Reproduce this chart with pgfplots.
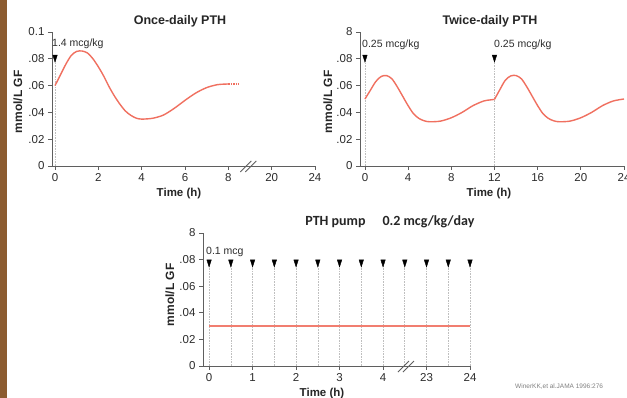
\documentclass[border=0pt]{standalone}
\usepackage{pgfplots}
\pgfplotsset{compat=1.18}
\usepackage{fontspec}
\setmainfont{Liberation Sans}
\newfontfamily\carlito{Carlito}
\definecolor{curve}{RGB}{240,112,96}
\definecolor{axgray}{RGB}{95,95,95}
\definecolor{txt}{RGB}{45,45,45}
\definecolor{strip}{RGB}{140,92,48}

\pgfplotsset{panel/.style={
  scale only axis, anchor=south west, clip=false,
  axis x line*=bottom, axis y line*=left,
  axis line style={axgray, line width=0.9pt},
  every tick/.style={axgray, line width=0.9pt},
  tick align=outside, major tick length=4pt,
  /pgf/number format/assume math mode=true,
  ymin=0, ymax=0.1, ytick={0,0.02,0.04,0.06,0.08,0.1},
  ticklabel style={font=\fontsize{11.5}{13}\selectfont, text=txt},
  height=134pt,
}}
\pgfplotsset{dose/.style={black, only marks, mark=triangle*, mark size=2.6pt, mark options={rotate=180, yscale=1.8, fill=black}}}
\pgfplotsset{vline/.style={gray!50, densely dotted, line width=0.6pt}}

\begin{document}
\begin{tikzpicture}[x=1pt,y=1pt]
\path[use as bounding box] (0,0) rectangle (627,398);
\fill[white] (0,0) rectangle (627,398);
\fill[strip] (0,0) rectangle (7,398);

% ---------- Panel 1: once-daily ----------
\begin{axis}[panel, at={(52pt,232pt)}, width=263pt,
  xmin=-0.14, xmax=12,
  xtick={0,2,4,6,8,10,12}, xticklabels={0,2,4,6,8,20,24},
  yticklabels={0,.02,.04,.06,.08,0.1}]
\addplot[vline] coordinates {(0,0) (0,0.081)};
\addplot[dose] coordinates {(0,0.081)};
\addplot[curve, line width=1.4pt, smooth] coordinates {
 (0,0.060) (0.25,0.068) (0.5,0.076) (0.75,0.0825) (1.0,0.0855) (1.25,0.0858)
 (1.5,0.0843) (1.75,0.080) (2.0,0.074) (2.25,0.067) (2.5,0.059) (2.75,0.052)
 (3.0,0.046) (3.25,0.041) (3.5,0.0378) (3.75,0.0357) (4.0,0.035) (4.5,0.0356)
 (5.0,0.038) (5.5,0.043) (6.0,0.049) (6.5,0.0545) (7.0,0.0585) (7.5,0.0607) (8.0,0.0612)};
\addplot[curve, line width=1.4pt, densely dotted] coordinates {(8.0,0.0612) (8.5,0.0612)};
\draw[axgray, line width=0.9pt] ([xshift=-9pt,yshift=-6pt]axis cs:8.97,0) -- ++(11pt,11pt);
\draw[axgray, line width=0.9pt] ([xshift=-4pt,yshift=-6pt]axis cs:8.97,0) -- ++(11pt,11pt);
\end{axis}

% ---------- Panel 2: twice-daily ----------
\begin{axis}[panel, at={(360pt,232pt)}, width=264pt,
  xmin=-0.46, xmax=24,
  xtick={0,4,8,12,16,20,24}, xticklabels={0,4,8,12,16,20,24},
  yticklabels={0,.02,.04,.06,.08,8}]
\addplot[vline] coordinates {(0,0) (0,0.081)};
\addplot[vline] coordinates {(12,0) (12,0.081)};
\addplot[dose] coordinates {(0,0.081) (12,0.081)};
\addplot[curve, line width=1.4pt, smooth] coordinates {
 (0,0.050) (0.5,0.0565) (1,0.063) (1.5,0.0668) (2,0.0675) (2.5,0.065) (3,0.059)
 (3.5,0.052) (4,0.045) (4.5,0.039) (5,0.0355) (5.5,0.0337) (6,0.033) (7,0.0335)
 (8,0.036) (9,0.040) (10,0.045) (11,0.0485) (11.6,0.0493) (12,0.0497)};
\addplot[curve, line width=1.4pt, smooth] coordinates {
 (12,0.0497) (12.5,0.057) (13,0.064) (13.5,0.0672) (14,0.0675) (14.5,0.065) (15,0.059)
 (15.5,0.052) (16,0.045) (16.5,0.039) (17,0.0355) (17.5,0.0337) (18,0.033) (19,0.0335)
 (20,0.036) (21,0.040) (22,0.045) (23,0.0485) (24,0.050)};
\end{axis}

% ---------- Panel 3: pump ----------
\begin{axis}[panel, at={(203pt,32pt)}, width=267pt, height=133pt,
  xmin=-0.14, xmax=6,
  xtick={0,1,2,3,4,5,6}, xticklabels={0,1,2,3,4,23,24},
  yticklabels={0,.02,.04,.06,.08,8}]
\foreach \t in {0,0.5,1,1.5,2,2.5,3,3.5,4,4.5,5,5.5,6} {
  \edef\tmp{\noexpand\addplot[vline] coordinates {(\t,0) (\t,0.078)};}\tmp
}
\addplot[dose] coordinates {(0,0.078) (0.5,0.078) (1,0.078) (1.5,0.078) (2,0.078)
 (2.5,0.078) (3,0.078) (3.5,0.078) (4,0.078) (4.5,0.078) (5,0.078) (5.5,0.078) (6,0.078)};
\addplot[curve!90, line width=2pt] coordinates {(0,0.030) (6,0.030)};
\draw[axgray, line width=0.9pt] ([xshift=-9pt,yshift=-6pt]axis cs:4.55,0) -- ++(11pt,11pt);
\draw[axgray, line width=0.9pt] ([xshift=-4pt,yshift=-6pt]axis cs:4.55,0) -- ++(11pt,11pt);
\end{axis}

% ---------- Titles and labels ----------
\node[anchor=base, font=\fontsize{12.5}{14}\selectfont\bfseries, text=black!85] at (180,373) {Once-daily PTH};
\node[anchor=base, font=\fontsize{12.5}{14}\selectfont\bfseries, text=black!85] at (490,373) {Twice-daily PTH};
\node[anchor=base, font=\carlito\fontsize{14}{16}\selectfont\bfseries, text=black!85] at (335.5,172) {PTH pump};
\node[anchor=base, font=\carlito\fontsize{14}{16}\selectfont\bfseries, text=black!85] at (428.5,172) {0.2 mcg/kg/day};

\node[anchor=base, font=\fontsize{11.5}{13}\selectfont\bfseries, text=black!85] at (179,201) {Time (h)};
\node[anchor=base, font=\fontsize{11.5}{13}\selectfont\bfseries, text=black!85] at (489,201) {Time (h)};
\node[anchor=base, font=\fontsize{11.5}{13}\selectfont\bfseries, text=black!85] at (322,1) {Time (h)};

\node[rotate=90, font=\fontsize{12}{14}\selectfont\bfseries, text=black!85] at (18,296) {mmol/L GF};
\node[rotate=90, font=\fontsize{12}{14}\selectfont\bfseries, text=black!85] at (328,296) {mmol/L GF};
\node[rotate=90, font=\fontsize{12}{14}\selectfont\bfseries, text=black!85] at (170,103) {mmol/L GF};

\node[anchor=base west, inner sep=0pt, font=\fontsize{10.5}{12}\selectfont, text=txt] at (52,351) {1.4 mcg/kg};
\node[anchor=base west, inner sep=0pt, font=\fontsize{10.5}{12}\selectfont, text=txt] at (362,350) {0.25 mcg/kg};
\node[anchor=base west, inner sep=0pt, font=\fontsize{10.5}{12}\selectfont, text=txt] at (494,350) {0.25 mcg/kg};
\node[anchor=base west, inner sep=0pt, font=\fontsize{10.5}{12}\selectfont, text=txt] at (206,143) {0.1 mcg};

\node[anchor=base west, inner sep=0pt, font=\fontsize{6.5}{8}\selectfont, text=gray] at (515,9) {WinerKK,et al.JAMA 1996:276};
\end{tikzpicture}
\end{document}
